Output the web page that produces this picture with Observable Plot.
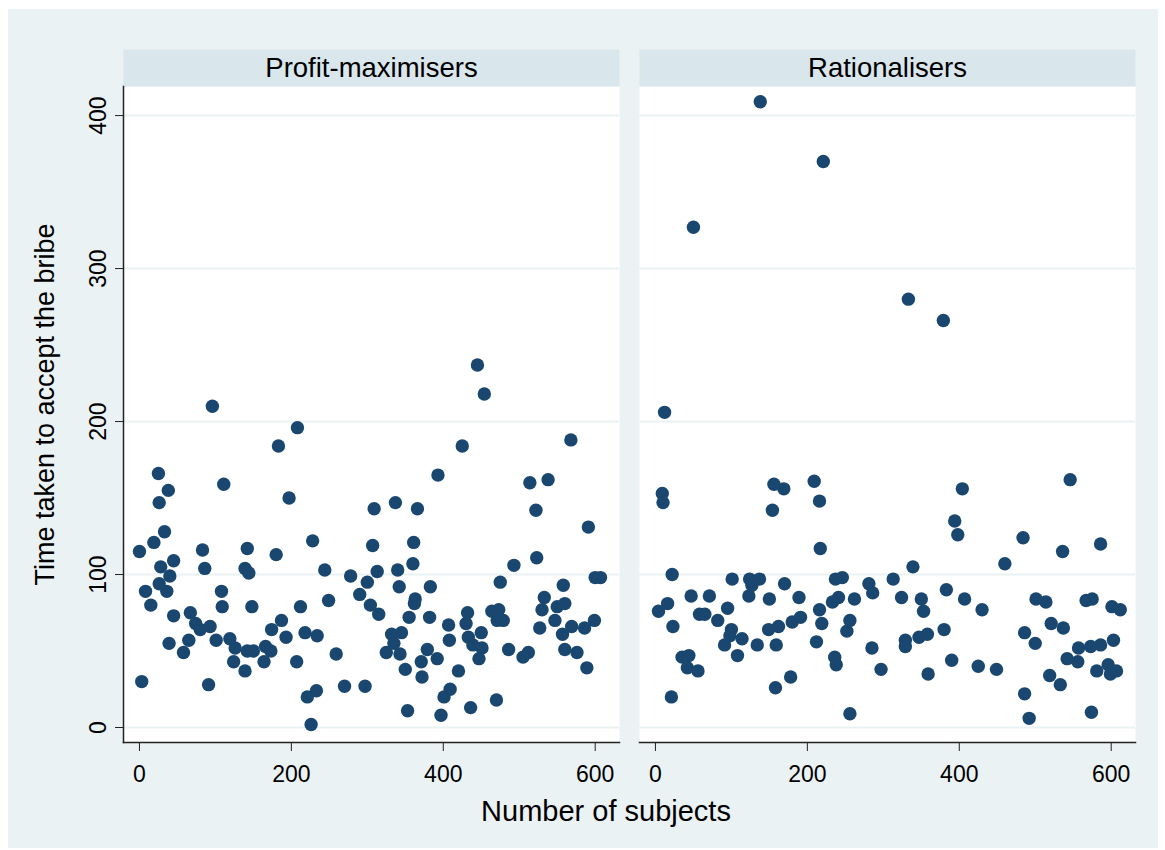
<!DOCTYPE html>
<html>
<head>
<meta charset="utf-8">
<script src="https://cdn.jsdelivr.net/npm/d3@7"></script>
<script src="https://cdn.jsdelivr.net/npm/@observablehq/plot@0.6"></script>
<style>
  html, body { margin: 0; padding: 0; background: #ffffff; }
  #backdrop { position: absolute; left: 8px; top: 9px; width: 1150px; height: 839px; background: #eaf2f3; }
  #chart { position: absolute; left: 0; top: 0; }
</style>
</head>
<body>
<div id="backdrop"></div>
<div id="chart"></div>
<script>
// Facet panels
const groups = ["Profit-maximisers", "Rationalisers"];

// Profit-maximisers: subject number and time taken to accept the bribe
const profitSubjects = [
  96, 183, 25, 38, 26, 111, 197, 33, 19, 0, 45, 28, 40, 26, 36, 8, 15, 83, 86, 142,
  139, 144, 180, 108, 109, 148, 45, 67, 74, 80, 93, 39, 65, 58, 101, 119, 126, 142, 150, 124,
  139, 164, 166, 173, 174, 187, 193, 3, 91, 207, 208, 228, 244, 212, 249, 218, 234, 259, 221, 233,
  226, 270, 297, 278, 300, 290, 304, 315, 307, 309, 313, 337, 366, 393, 361, 360, 340, 342, 363, 362,
  383, 355, 382, 407, 408, 332, 345, 335, 325, 343, 350, 379, 371, 392, 372, 353, 397, 401, 409, 420,
  425, 454, 445, 568, 514, 538, 522, 591, 523, 493, 475, 558, 600, 607, 533, 530, 550, 560, 547, 557,
  569, 586, 599, 527, 560, 576, 589, 486, 505, 512, 432, 430, 433, 439, 450, 451, 447, 464, 473, 471,
  479, 436, 470
];
const profitTimes = [
  210, 184, 166, 155, 147, 159, 150, 128, 121, 115, 109, 105, 99, 94, 89, 89, 80, 116, 104, 117,
  104, 101, 113, 89, 79, 79, 73, 75, 68, 64, 66, 55, 57, 49, 57, 58, 52, 50, 50, 43,
  37, 43, 53, 50, 64, 70, 59, 30, 28, 43, 196, 122, 103, 79, 83, 62, 60, 48, 20, 24,
  2, 27, 27, 99, 95, 87, 80, 74, 119, 143, 102, 147, 143, 165, 121, 107, 103, 92, 84, 81,
  92, 72, 72, 67, 57, 61, 62, 55, 49, 48, 38, 51, 43, 45, 33, 11, 8, 20, 25, 37,
  184, 218, 237, 188, 160, 162, 142, 131, 111, 106, 95, 93, 98, 98, 85, 77, 79, 81, 70, 61,
  66, 65, 70, 65, 51, 49, 39, 51, 46, 49, 75, 68, 59, 54, 62, 52, 45, 76, 77, 70,
  70, 13, 18
];

// Rationalisers: subject number and time taken to accept the bribe
const rationalSubjects = [
  12, 9, 10, 156, 169, 154, 22, 101, 124, 137, 127, 123, 170, 150, 189, 47, 71, 16, 4, 23,
  58, 65, 82, 95, 100, 98, 91, 114, 108, 134, 159, 149, 162, 180, 191, 35, 44, 42, 56, 21,
  158, 178, 138, 221, 50, 333, 379, 209, 216, 217, 404, 394, 398, 339, 237, 246, 281, 286, 313, 383,
  407, 233, 241, 262, 324, 350, 216, 353, 219, 256, 252, 212, 380, 347, 358, 329, 329, 285, 236, 238,
  297, 390, 359, 256, 546, 484, 586, 536, 460, 430, 501, 514, 567, 575, 601, 612, 521, 537, 486, 500,
  557, 573, 586, 603, 542, 556, 581, 596, 599, 607, 425, 449, 519, 533, 486, 492, 574
];
const rationalTimes = [
  206, 153, 147, 159, 156, 142, 100, 97, 97, 97, 93, 86, 94, 84, 85, 86, 86, 81, 76, 66,
  74, 74, 70, 78, 64, 60, 54, 58, 47, 54, 54, 64, 66, 69, 72, 46, 47, 39, 37, 20,
  26, 33, 409, 370, 327, 280, 266, 161, 148, 117, 156, 135, 126, 105, 97, 98, 94, 88, 97, 90,
  84, 82, 85, 84, 85, 84, 77, 76, 68, 70, 63, 56, 64, 59, 61, 57, 53, 52, 46, 41,
  38, 44, 35, 9, 162, 124, 120, 115, 107, 77, 84, 82, 83, 84, 79, 77, 68, 65, 62, 55,
  52, 53, 54, 57, 45, 43, 37, 41, 35, 37, 40, 38, 34, 28, 22, 6, 10
];

// Axis ticks
const xTicks = [0, 200, 400, 600];
const yTicks = [0, 100, 200, 300, 400];

const rows = [
  ...profitSubjects.map((s, i) => ({group: groups[0], subject: s, time: profitTimes[i]})),
  ...rationalSubjects.map((s, i) => ({group: groups[1], subject: s, time: rationalTimes[i]}))
];

const navy = "#1a476f";
const font = "'Liberation Sans', Arial, Helvetica, sans-serif";

const chart = Plot.plot({
  width: 1165,
  height: 850,
  marginLeft: 123,
  marginRight: 30,
  marginTop: 86,
  marginBottom: 108,
  style: {fontFamily: font, fontSize: "23px", background: "transparent", color: "#000", overflow: "visible"},
  fx: {domain: groups, paddingInner: 0.0388, paddingOuter: 0, axis: null},
  x: {domain: [-21, 632], label: null},
  y: {domain: [-9.8, 419], label: null},
  marks: [
    // white plot region and grey-blue header strip for each panel
    Plot.frame({fill: "white"}),
    Plot.frame({fill: "#d9e6eb", insetTop: -37, insetBottom: 656}),
    Plot.gridY(yTicks, {stroke: "#eaf2f3", strokeOpacity: 1, strokeWidth: 2}),
    Plot.dot(rows, {fx: "group", x: "subject", y: "time", r: 6.7, fill: navy}),
    Plot.text(groups, {fx: d => d, text: d => d, frameAnchor: "top", dy: -18.5, fontSize: 27.5, lineAnchor: "middle", fill: "#000"}),
    Plot.axisY(yTicks, {tickSize: 8, tickRotate: -90, tickPadding: 10, fontSize: 23, label: null, stroke: "#222"}),
    Plot.axisX(xTicks, {tickSize: 9, tickPadding: 14, fontSize: 23, label: null, stroke: "#222"}),
    Plot.frame({anchor: "left", facetAnchor: "left", stroke: "#222", strokeWidth: 1.5}),
    Plot.frame({anchor: "bottom", stroke: "#222", strokeWidth: 1.5})
  ]
});

document.getElementById("chart").appendChild(chart);

// Axis titles
const svg = d3.select(chart);
svg.append("text")
  .attr("transform", "translate(54,404.5) rotate(-90)")
  .attr("text-anchor", "middle")
  .attr("font-family", font)
  .attr("font-size", 27)
  .attr("fill", "#000")
  .text("Time taken to accept the bribe");
svg.append("text")
  .attr("x", 606)
  .attr("y", 821)
  .attr("text-anchor", "middle")
  .attr("font-family", font)
  .attr("font-size", 29)
  .attr("fill", "#000")
  .text("Number of subjects");
</script>
</body>
</html>
